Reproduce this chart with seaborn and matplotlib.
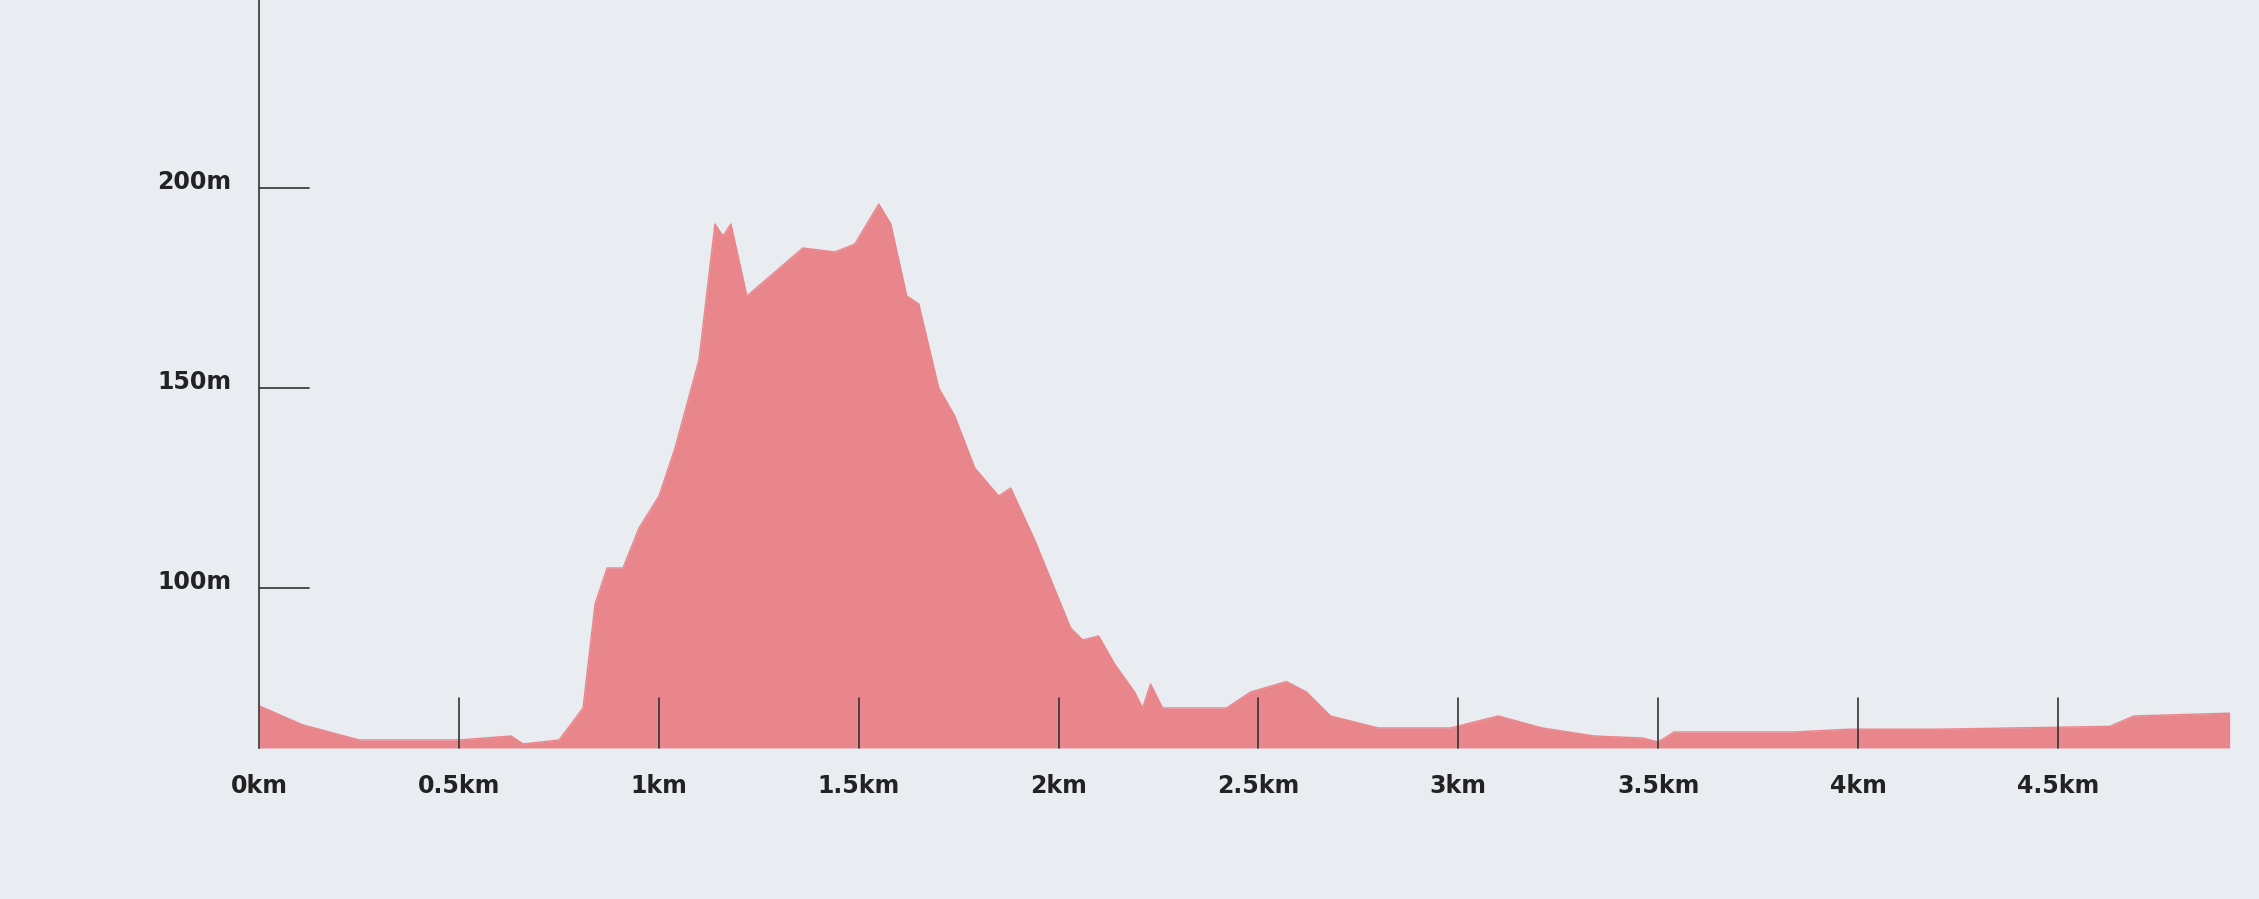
import matplotlib
matplotlib.use("Agg")
import matplotlib.pyplot as plt
import seaborn as sns
import pandas as pd

dist_km = [0, 0.108, 0.25, 0.5, 0.63, 0.66, 0.75, 0.81, 0.84, 0.87, 0.91, 0.95, 1.0, 1.04, 1.10, 1.14, 1.16, 1.18,
           1.22, 1.29, 1.36, 1.44, 1.49, 1.52, 1.55, 1.58, 1.62, 1.65, 1.70, 1.74, 1.79, 1.85, 1.88, 1.94, 2.03,
           2.06, 2.10, 2.14, 2.19, 2.21, 2.23, 2.26, 2.35, 2.42, 2.48, 2.57, 2.62, 2.68, 2.80, 2.98, 3.10, 3.21,
           3.34, 3.46, 3.50, 3.54, 3.84, 3.98, 4.2, 4.63, 4.69, 4.93]
elev_m = [70.5, 65.8, 62, 62, 63, 61, 62, 70, 96, 105, 105, 115, 123, 135, 157, 191, 188, 191,
          173, 179, 185, 184, 186, 191, 196, 191, 173, 171, 150, 143, 130, 123, 125, 112, 90,
          87, 88, 81, 74, 70, 76, 70, 70, 70, 74, 76.6, 74, 68, 65, 65, 68, 65,
          63, 62.5, 61.5, 64, 64, 64.7, 64.7, 65.4, 68, 68.7]
x_ticks = [0, 0.5, 1, 1.5, 2, 2.5, 3, 3.5, 4, 4.5]
x_labels = ["0km", "0.5km", "1km", "1.5km", "2km", "2.5km", "3km", "3.5km", "4km", "4.5km"]
y_ticks = [100, 150, 200]
y_labels = ["100m", "150m", "200m"]

df = pd.DataFrame({"d": dist_km, "e": elev_m})
sns.set_style("white")
bg = "#e9edf1"
fig = plt.figure(figsize=(22.59, 8.99), dpi=100, facecolor=bg)
ax = fig.add_axes([0.1148, 0.168, 0.987 - 0.1148, 0.832])
ax.set_facecolor(bg)
ymin, ymax = 60, 247
ax.fill_between(df["d"], ymin, df["e"], color="#e8868c", lw=0)
sns.lineplot(data=df, x="d", y="e", ax=ax, color="#e8868c", lw=1)
ax.set_xlim(0, 4.93)
ax.set_ylim(ymin, ymax)
for s in ["top", "right", "bottom"]:
    ax.spines[s].set_visible(False)
ax.spines["left"].set_color("#333333")
ax.spines["left"].set_linewidth(1.2)
ax.set_xticks([])
ax.set_yticks([])
ax.set_xlabel("")
ax.set_ylabel("")
for t, lab in zip(x_ticks, x_labels):
    if t > 0:
        ax.plot([t, t], [ymin, ymin + 12.5], color="#333333", lw=1.2, clip_on=False)
    ax.text(t, ymin - 9.5, lab, ha="center", va="center", fontsize=17, color="#222222", fontweight="semibold")
for t, lab in zip(y_ticks, y_labels):
    ax.plot([0, 0.125], [t, t], color="#333333", lw=1.2)
    ax.text(-0.07, t + 1.5, lab, ha="right", va="center", fontsize=17, color="#222222", fontweight="semibold")
fig.savefig("out.png", facecolor=bg)
